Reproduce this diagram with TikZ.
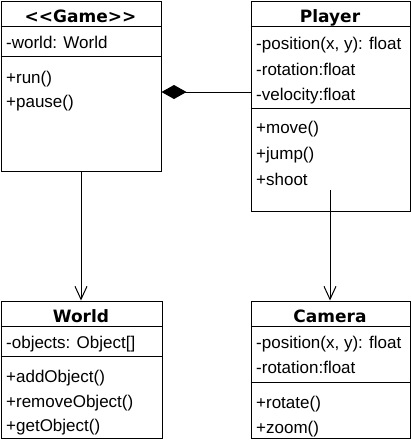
\documentclass[tikz,border=0pt]{standalone}
\usepackage{fontspec}
\setmainfont{Liberation Sans}
\newfontfamily\hdfont{DejaVu Sans}[BoldFont={DejaVu Sans Bold}]
\usetikzlibrary{arrows.meta}
\tikzset{
  classbox/.style={draw, line width=1pt, inner sep=0pt, anchor=north west},
  sepline/.style={line width=1pt},
  hdr/.style={anchor=base, inner sep=0pt, font=\hdfont\bfseries\fontsize{17}{20}\selectfont},
  mem/.style={anchor=base west, inner sep=0pt, font=\fontsize{17}{20}\selectfont},
  conn/.style={line width=1pt},
  openarrow/.style={conn, -{Straight Barb[length=13pt,width=12pt,line width=1pt]}},
  composition/.style={conn, {Diamond[length=25pt,width=14pt]}-}
}
\begin{document}
\begin{tikzpicture}[x=1pt,y=-1pt]
\useasboundingbox (0,0) rectangle (411,442);
% Game
\node[classbox, minimum width=160pt, minimum height=170pt] (game) at (0.5,0.5) {};
\draw[sepline] (0.5,26) -- (160.5,26);
\draw[sepline] (0.5,56) -- (160.5,56);
\node[hdr] (gameh) at (80.5,22.5) {<<Game>>};
\node[mem] (gamea1) at (6,48) {-world: World};
\node[mem] (gamem1) at (6,83) {+run()};
\node[mem] (gamem2) at (6,107) {+pause()};
% Player
\node[classbox, minimum width=159pt, minimum height=210pt] (player) at (250.5,0.5) {};
\draw[sepline] (250.5,26) -- (409.5,26);
\draw[sepline] (250.5,108) -- (409.5,108);
\node[hdr] (playerh) at (330,22.5) {Player};
\node[mem] (playera1) at (256,49) {-position(x, y): float};
\node[mem] (playera2) at (256,75) {-rotation:float};
\node[mem] (playera3) at (256,100.5) {-velocity:float};
\node[mem] (playerm1) at (256,133) {+move()};
\node[mem] (playerm2) at (256,159) {+jump()};
\node[mem] (playerm3) at (256,185) {+shoot};
% World
\node[classbox, minimum width=161pt, minimum height=137pt] (world) at (0.5,300.5) {};
\draw[sepline] (0.5,326) -- (161.5,326);
\draw[sepline] (0.5,356.5) -- (161.5,356.5);
\node[hdr] (worldh) at (81,322.5) {World};
\node[mem] (worlda1) at (6,348.5) {-objects: Object[]};
\node[mem] (worldm1) at (6,382) {+addObject()};
\node[mem] (worldm2) at (6,407) {+removeObject()};
\node[mem] (worldm3) at (6,431) {+getObject()};
% Camera
\node[classbox, minimum width=159pt, minimum height=137pt] (camera) at (250.5,300.5) {};
\draw[sepline] (250.5,326) -- (409.5,326);
\draw[sepline] (250.5,382) -- (409.5,382);
\node[hdr] (camerah) at (330,322.5) {Camera};
\node[mem] (cameraa1) at (256,348.5) {-position(x, y): float};
\node[mem] (cameraa2) at (256,373.5) {-rotation:float};
\node[mem] (cameram1) at (256,408.5) {+rotate()};
\node[mem] (cameram2) at (256,433.5) {+zoom()};
% connectors
\coordinate (pw) at (250.5,92);
\draw[composition] (game.east |- pw) -- (pw);
\draw[openarrow] (game.south) -- (game.south |- world.north);
\coordinate (ps) at (330,190);
\draw[openarrow] (ps) -- (ps |- camera.north);
\end{tikzpicture}
\end{document}
